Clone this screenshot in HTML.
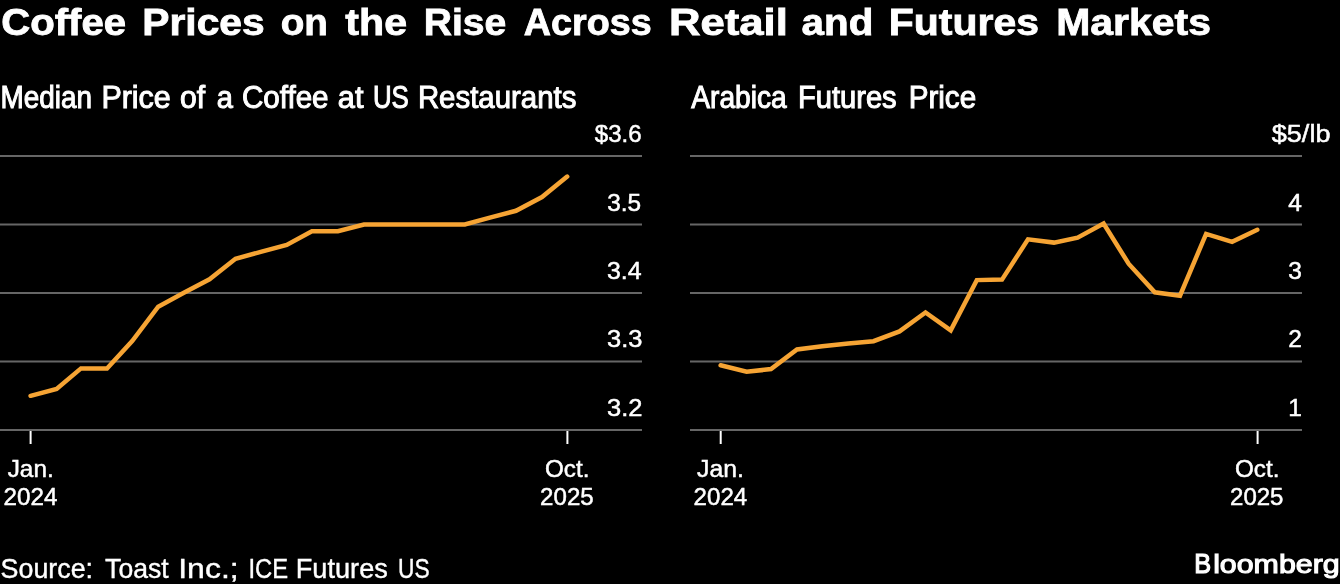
<!DOCTYPE html>
<html><head><meta charset="utf-8"><style>
html,body{margin:0;padding:0;background:#000000;width:1340px;height:584px;overflow:hidden}
svg{display:block;will-change:transform}
text{font-family:"Liberation Sans", sans-serif;fill:#fff}
</style></head><body>
<svg width="1340" height="584" viewBox="0 0 1340 584">
<rect width="1340" height="584" fill="#000000"/>
<g stroke="#666666" stroke-width="2"><line x1="0" y1="156" x2="642" y2="156"/><line x1="0" y1="224.5" x2="642" y2="224.5"/><line x1="0" y1="293" x2="642" y2="293"/><line x1="0" y1="361.5" x2="642" y2="361.5"/><line x1="0" y1="430" x2="642" y2="430"/><line x1="690" y1="156" x2="1302" y2="156"/><line x1="690" y1="224.5" x2="1302" y2="224.5"/><line x1="690" y1="293" x2="1302" y2="293"/><line x1="690" y1="361.5" x2="1302" y2="361.5"/><line x1="690" y1="430" x2="1302" y2="430"/></g>
<g stroke="#ffffff" stroke-width="2"><line x1="30.6" y1="431" x2="30.6" y2="444"/><line x1="567.4" y1="431" x2="567.4" y2="444"/><line x1="720.7" y1="431" x2="720.7" y2="444"/><line x1="1257.6" y1="431" x2="1257.6" y2="444"/></g>
<polyline points="30.6,395.8 56.6,388.9 81.0,368.4 107.0,368.4 132.2,341.0 158.2,306.7 183.4,293.0 209.5,279.3 235.5,258.8 260.7,251.9 286.7,245.0 311.9,231.3 337.9,231.3 364.0,224.5 387.5,224.5 413.5,224.5 438.7,224.5 464.8,224.5 489.9,217.7 516.0,210.8 542.0,197.1 567.2,176.6" fill="none" stroke="#F6A434" stroke-width="4.5" stroke-linejoin="miter" stroke-linecap="round"/>
<polyline points="720.6,365.3 746.6,371.8 771.0,369.1 797.0,349.4 822.2,346.2 848.3,343.6 873.5,341.2 899.5,331.4 925.5,312.5 950.7,330.4 976.8,280.1 1002.0,279.6 1028.0,239.3 1054.0,242.6 1077.6,237.7 1103.6,223.5 1128.8,264.0 1154.8,292.3 1180.0,295.7 1206.1,233.9 1232.1,241.8 1257.3,229.8" fill="none" stroke="#F6A434" stroke-width="4.5" stroke-linejoin="miter" stroke-linecap="round"/>
<text transform="matrix(1.1081 0 0 1 1.29 35.0)" font-size="36.2" font-weight="bold" stroke="#fff" stroke-width="0.8">Coffee</text>
<text transform="matrix(1.1264 0 0 1 142.25 35.0)" font-size="36.2" font-weight="bold" stroke="#fff" stroke-width="0.8">Prices</text>
<text transform="matrix(1.0659 0 0 1 280.73 35.0)" font-size="36.2" font-weight="bold" stroke="#fff" stroke-width="0.8">on</text>
<text transform="matrix(1.1370 0 0 1 345.30 35.0)" font-size="36.2" font-weight="bold" stroke="#fff" stroke-width="0.8">the</text>
<text transform="matrix(1.0811 0 0 1 423.64 35.0)" font-size="36.2" font-weight="bold" stroke="#fff" stroke-width="0.8">Rise</text>
<text transform="matrix(1.0421 0 0 1 523.86 35.0)" font-size="36.2" font-weight="bold" stroke="#fff" stroke-width="0.8">Across</text>
<text transform="matrix(1.2074 0 0 1 668.89 35.0)" font-size="36.2" font-weight="bold" stroke="#fff" stroke-width="0.8">Retail</text>
<text transform="matrix(1.1148 0 0 1 801.59 35.0)" font-size="36.2" font-weight="bold" stroke="#fff" stroke-width="0.8">and</text>
<text transform="matrix(1.1323 0 0 1 888.74 35.0)" font-size="36.2" font-weight="bold" stroke="#fff" stroke-width="0.8">Futures</text>
<text transform="matrix(1.1313 0 0 1 1056.24 35.0)" font-size="36.2" font-weight="bold" stroke="#fff" stroke-width="0.8">Markets</text>
<text transform="matrix(0.9124 0 0 1 0.38 107.8)" font-size="30.6" font-weight="normal" stroke="#fff" stroke-width="1.0">Median</text>
<text transform="matrix(0.9955 0 0 1 101.41 107.8)" font-size="30.6" font-weight="normal" stroke="#fff" stroke-width="1.0">Price</text>
<text transform="matrix(0.9840 0 0 1 179.92 107.8)" font-size="30.6" font-weight="normal" stroke="#fff" stroke-width="1.0">of</text>
<text transform="matrix(0.9500 0 0 1 216.65 107.8)" font-size="30.6" font-weight="normal" stroke="#fff" stroke-width="1.0">a</text>
<text transform="matrix(0.9670 0 0 1 241.93 107.8)" font-size="30.6" font-weight="normal" stroke="#fff" stroke-width="1.0">Coffee</text>
<text transform="matrix(1.0040 0 0 1 337.80 107.8)" font-size="30.6" font-weight="normal" stroke="#fff" stroke-width="1.0">at</text>
<text transform="matrix(0.8436 0 0 1 372.91 107.8)" font-size="30.6" font-weight="normal" stroke="#fff" stroke-width="1.0">US</text>
<text transform="matrix(0.9605 0 0 1 417.88 107.8)" font-size="30.6" font-weight="normal" stroke="#fff" stroke-width="1.0">Restaurants</text>
<text transform="matrix(0.9212 0 0 1 691.20 107.8)" font-size="30.6" font-weight="normal" stroke="#fff" stroke-width="1.0">Arabica</text>
<text transform="matrix(0.9525 0 0 1 797.90 107.8)" font-size="30.6" font-weight="normal" stroke="#fff" stroke-width="1.0">Futures</text>
<text transform="matrix(0.9687 0 0 1 908.66 107.8)" font-size="30.6" font-weight="normal" stroke="#fff" stroke-width="1.0">Price</text>
<text transform="matrix(0.9830 0 0 1 594.80 141.7)" font-size="24.5" font-weight="normal" stroke="#fff" stroke-width="0.5">$3.6</text>
<text transform="matrix(0.9970 0 0 1 607.20 210.5)" font-size="24.5" font-weight="normal" stroke="#fff" stroke-width="0.5">3.5</text>
<text transform="matrix(1.0152 0 0 1 606.98 278.6)" font-size="24.5" font-weight="normal" stroke="#fff" stroke-width="0.5">3.4</text>
<text transform="matrix(1.0406 0 0 1 606.96 347.2)" font-size="24.5" font-weight="normal" stroke="#fff" stroke-width="0.5">3.3</text>
<text transform="matrix(1.0406 0 0 1 606.96 415.7)" font-size="24.5" font-weight="normal" stroke="#fff" stroke-width="0.5">3.2</text>
<text transform="matrix(1.1038 0 0 1 1271.80 141.7)" font-size="24.5" font-weight="normal" stroke="#fff" stroke-width="0.5">$5/lb</text>
<text transform="matrix(1.0000 0 0 1 1288.20 210.5)" font-size="24.5" font-weight="normal" stroke="#fff" stroke-width="0.5">4</text>
<text transform="matrix(1.0000 0 0 1 1288.20 278.6)" font-size="24.5" font-weight="normal" stroke="#fff" stroke-width="0.5">3</text>
<text transform="matrix(1.0000 0 0 1 1288.20 347.2)" font-size="24.5" font-weight="normal" stroke="#fff" stroke-width="0.5">2</text>
<text transform="matrix(1.0000 0 0 1 1288.20 415.7)" font-size="24.5" font-weight="normal" stroke="#fff" stroke-width="0.5">1</text>
<text transform="matrix(0.9933 0 0 1 7.70 476.5)" font-size="24.5" font-weight="normal" stroke="#fff" stroke-width="0.5">Jan.</text>
<text transform="matrix(0.9887 0 0 1 3.61 504.8)" font-size="24.5" font-weight="normal" stroke="#fff" stroke-width="0.5">2024</text>
<text transform="matrix(0.9881 0 0 1 545.01 476.5)" font-size="24.5" font-weight="normal" stroke="#fff" stroke-width="0.5">Oct.</text>
<text transform="matrix(0.9830 0 0 1 540.12 504.8)" font-size="24.5" font-weight="normal" stroke="#fff" stroke-width="0.5">2025</text>
<text transform="matrix(1.0111 0 0 1 697.10 476.5)" font-size="24.5" font-weight="normal" stroke="#fff" stroke-width="0.5">Jan.</text>
<text transform="matrix(0.9830 0 0 1 693.62 504.8)" font-size="24.5" font-weight="normal" stroke="#fff" stroke-width="0.5">2024</text>
<text transform="matrix(0.9881 0 0 1 1235.01 476.5)" font-size="24.5" font-weight="normal" stroke="#fff" stroke-width="0.5">Oct.</text>
<text transform="matrix(0.9811 0 0 1 1230.02 504.8)" font-size="24.5" font-weight="normal" stroke="#fff" stroke-width="0.5">2025</text>
<text transform="matrix(0.9944 0 0 1 0.61 577.6)" font-size="27" font-weight="normal" stroke="#fff" stroke-width="0.4">Source:</text>
<text transform="matrix(0.9846 0 0 1 105.10 577.6)" font-size="27" font-weight="normal" stroke="#fff" stroke-width="0.4">Toast</text>
<text transform="matrix(1.1851 0 0 1 178.23 577.6)" font-size="27" font-weight="normal" stroke="#fff" stroke-width="0.4">Inc.;</text>
<text transform="matrix(0.8810 0 0 1 248.44 577.6)" font-size="27" font-weight="normal" stroke="#fff" stroke-width="0.4">ICE</text>
<text transform="matrix(1.0056 0 0 1 295.79 577.6)" font-size="27" font-weight="normal" stroke="#fff" stroke-width="0.4">Futures</text>
<text transform="matrix(0.8429 0 0 1 398.01 577.6)" font-size="27" font-weight="normal" stroke="#fff" stroke-width="0.4">US</text>
<text transform="matrix(0.9200 0 0 1 1194.16 573.3)" font-size="27.5" font-weight="normal" stroke="#fff" stroke-width="1.2">B</text>
<text transform="matrix(1.1670 0 0 1 1213.13 573.3)" font-size="26" font-weight="normal" stroke="#fff" stroke-width="1.1">loomberg</text>
</svg>
</body></html>
